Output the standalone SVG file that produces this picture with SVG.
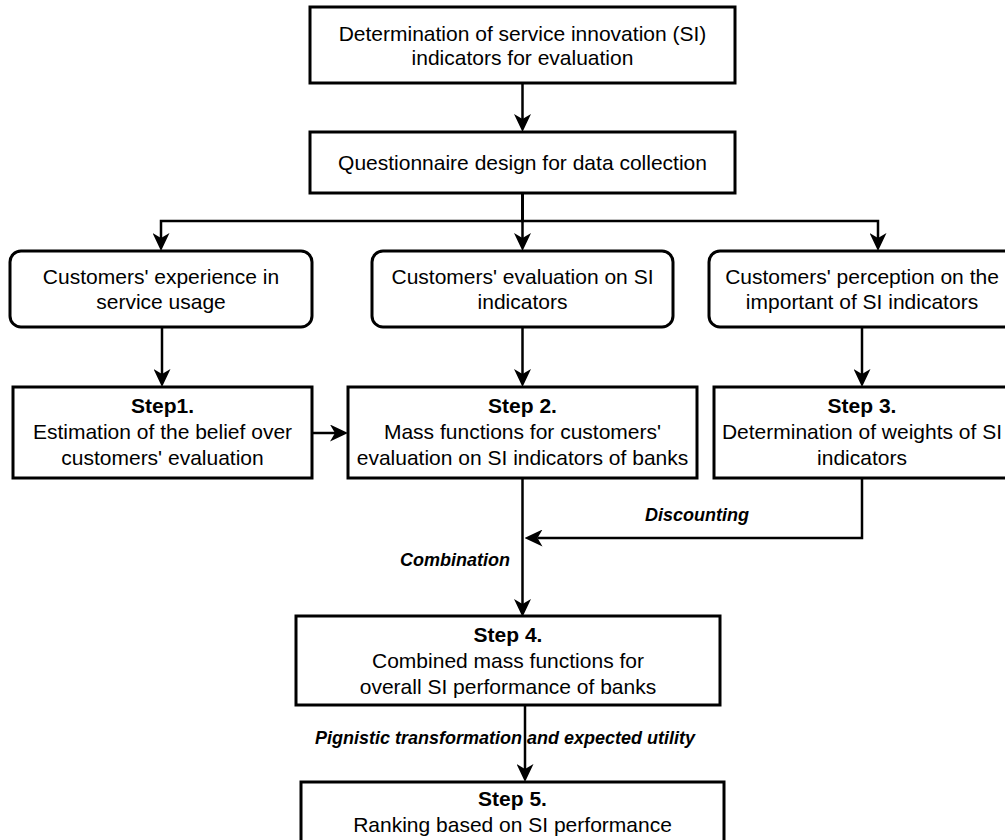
<svg xmlns="http://www.w3.org/2000/svg" width="1005" height="840" viewBox="0 0 1005 840">
<style>
.box{fill:#fff;stroke:#000;stroke-width:3}
.t{font-family:"Liberation Sans",Arial,sans-serif;font-size:21px;fill:#000;text-anchor:middle}
.b{font-weight:bold}
.lbl{font-family:"Liberation Sans",Arial,sans-serif;font-size:18px;font-weight:bold;font-style:italic;fill:#000}
.c{fill:none;stroke:#000;stroke-width:2.5;marker-end:url(#ah)}
</style>
<defs>
<marker id="ah" markerUnits="userSpaceOnUse" viewBox="0 0 18 17" markerWidth="18" markerHeight="17" refX="5" refY="8.5" orient="auto">
<path d="M0,0 L18,8.5 L0,17 L5,8.5 Z" fill="#000"/>
</marker>
</defs>
<rect width="1005" height="840" fill="#fff"/>
<g id="connectors">
<path class="c" d="M522.5,83 V119"/>
<path class="c" d="M522.5,193 V221 H161 V238"/>
<path class="c" d="M522.5,193 V238"/>
<path class="c" d="M522.5,193 V221 H878 V238"/>
<path class="c" d="M162,327 V374"/>
<path class="c" d="M522.5,327 V374"/>
<path class="c" d="M862,327 V374"/>
<path class="c" d="M312,433 H335"/>
<path class="c" d="M522.5,478 V604"/>
<path class="c" d="M862,478 V538 H537.5"/>
<path class="c" d="M525,705 V769"/>
<text class="lbl" x="697" y="521" text-anchor="middle">Discounting</text>
<text class="lbl" x="510" y="566" text-anchor="end">Combination</text>
<text class="lbl" x="505" y="744" text-anchor="middle">Pignistic transformation and expected utility</text>
</g>
<g id="n_determination">
<rect class="box" x="310" y="7" width="425" height="76"/>
<text class="t" x="522.5" y="41">Determination of service innovation (SI)</text>
<text class="t" x="522.5" y="65">indicators for evaluation</text>
</g>
<g id="n_questionnaire">
<rect class="box" x="310" y="132" width="425" height="61"/>
<text class="t" x="522.5" y="170">Questionnaire design for data collection</text>
</g>
<g id="n_experience">
<rect class="box" x="10" y="251" width="302" height="76" rx="11"/>
<text class="t" x="161" y="284">Customers' experience in</text>
<text class="t" x="161" y="309">service usage</text>
</g>
<g id="n_evaluation">
<rect class="box" x="372" y="251" width="301" height="76" rx="11"/>
<text class="t" x="522.5" y="284">Customers' evaluation on SI</text>
<text class="t" x="522.5" y="309">indicators</text>
</g>
<g id="n_perception">
<rect class="box" x="709" y="251" width="306" height="76" rx="11"/>
<text class="t" x="862" y="284">Customers' perception on the</text>
<text class="t" x="862" y="309">important of SI indicators</text>
</g>
<g id="n_step1">
<rect class="box" x="13" y="387" width="299" height="91"/>
<text class="t b" x="162.5" y="413">Step1.</text>
<text class="t" x="162.5" y="439">Estimation of the belief over</text>
<text class="t" x="162.5" y="465">customers' evaluation</text>
</g>
<g id="n_step2">
<rect class="box" x="348" y="387" width="349" height="91"/>
<text class="t b" x="522.5" y="413">Step 2.</text>
<text class="t" x="522.5" y="439">Mass functions for customers'</text>
<text class="t" x="522.5" y="465">evaluation on SI indicators of banks</text>
</g>
<g id="n_step3">
<rect class="box" x="714" y="387" width="296" height="91"/>
<text class="t b" x="862" y="413">Step 3.</text>
<text class="t" x="862" y="439">Determination of weights of SI</text>
<text class="t" x="862" y="465">indicators</text>
</g>
<g id="n_step4">
<rect class="box" x="296" y="616" width="424" height="89"/>
<text class="t b" x="508" y="642">Step 4.</text>
<text class="t" x="508" y="668">Combined mass functions for</text>
<text class="t" x="508" y="694">overall SI performance of banks</text>
</g>
<g id="n_step5">
<rect class="box" x="301" y="782" width="423" height="70"/>
<text class="t b" x="512.5" y="806">Step 5.</text>
<text class="t" x="512.5" y="832">Ranking based on SI performance</text>
</g>
</svg>
